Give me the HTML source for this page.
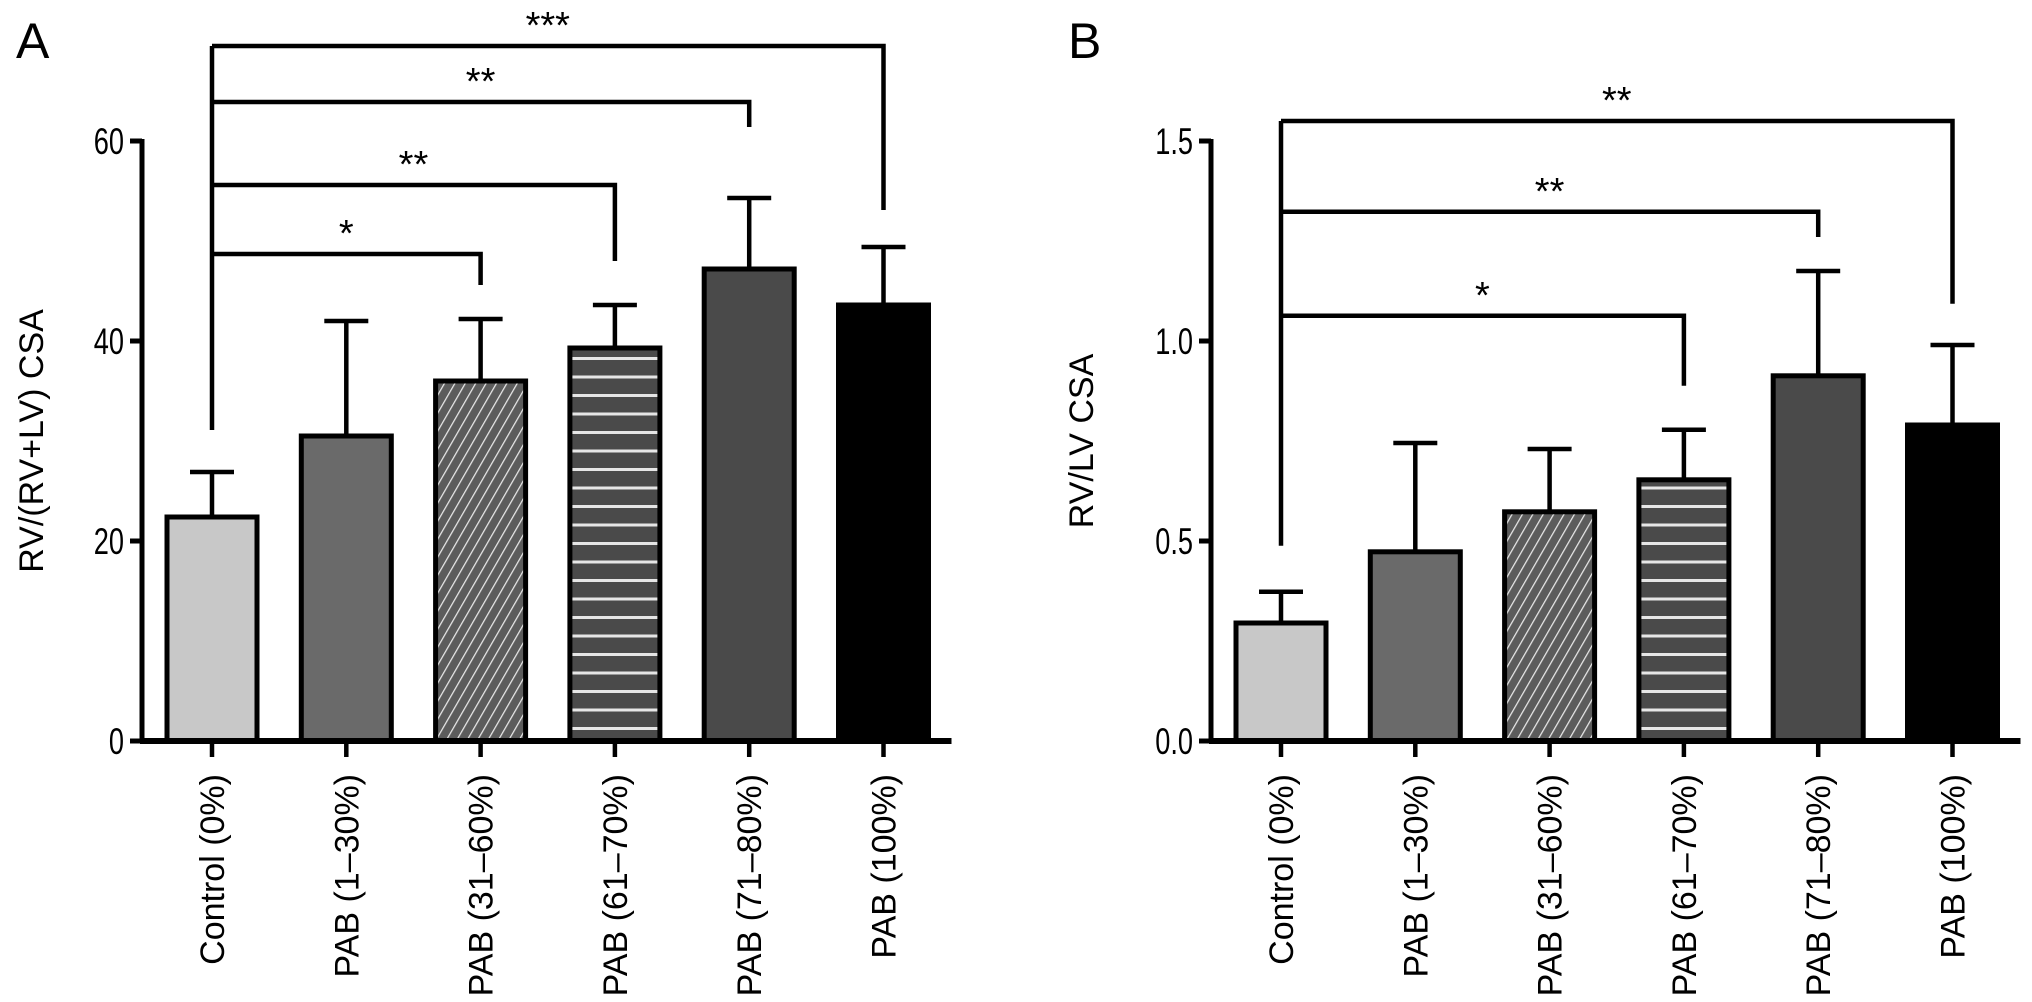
<!DOCTYPE html>
<html><head><meta charset="utf-8"><style>
html,body{margin:0;padding:0;background:#fff}
svg{display:block}
text{font-family:"Liberation Sans",Arial,sans-serif;fill:#000}
</style></head><body>
<svg id="chart" width="2032" height="1002" viewBox="0 0 2032 1002" xmlns="http://www.w3.org/2000/svg">
<defs>
<pattern id="diag" patternUnits="userSpaceOnUse" width="9" height="9" patternTransform="rotate(30)">
<rect width="9" height="9" fill="#5c5c5c"/><line x1="0" y1="0" x2="0" y2="9" stroke="#e8e8e8" stroke-width="2.5"/>
</pattern>
<pattern id="horiz" patternUnits="userSpaceOnUse" width="20" height="18.5" y="741">
<rect width="20" height="18.5" fill="#4a4a4a"/><line x1="0" y1="6" x2="20" y2="6" stroke="#e6e6e6" stroke-width="3"/>
</pattern>
</defs>
<g id="root"></g>
</svg>
<script>
const categories = ["Control (0%)", "PAB (1\u201330%)", "PAB (31\u201360%)", "PAB (61\u201370%)", "PAB (71\u201380%)", "PAB (100%)"];
const fills = ["#c8c8c8", "#6a6a6a", "url(#diag)", "url(#horiz)", "#4a4a4a", "#000000"];
const valuesA = [22.4, 30.5, 36.0, 39.3, 47.2, 43.6];
const errTopA = [26.9, 42.0, 42.2, 43.6, 54.3, 49.4];
const ticksA = [0, 20, 40, 60];
const tickLabelsA = ["0", "20", "40", "60"];
const bracketsA = [
  {to: 2, level: 48.7, drop: 45.6, label: "*"},
  {to: 3, level: 55.6, drop: 48.0, label: "**"},
  {to: 4, level: 63.9, drop: 61.4, label: "**"},
  {to: 5, level: 69.5, drop: 53.1, label: "***"}
];
const legA = 31.1;
const valuesB = [0.295, 0.473, 0.573, 0.653, 0.913, 0.79];
const errTopB = [0.373, 0.745, 0.73, 0.778, 1.175, 0.99];
const ticksB = [0, 0.5, 1.0, 1.5];
const tickLabelsB = ["0.0", "0.5", "1.0", "1.5"];
const bracketsB = [
  {to: 3, level: 1.063, drop: 0.888, label: "*"},
  {to: 4, level: 1.323, drop: 1.26, label: "**"},
  {to: 5, level: 1.55, drop: 1.093, label: "**"}
];
const legB = 0.488;

const NS = "http://www.w3.org/2000/svg";
const root = document.getElementById("root");
function el(tag, attrs, parent) {
  const e = document.createElementNS(NS, tag);
  for (const k in attrs) e.setAttribute(k, attrs[k]);
  (parent || root).appendChild(e);
  return e;
}

function panel(cfg) {
  const g = el("g", {});
  
  
  const y0 = 741, yTopPx = 141;
  const yS = v => y0 - (v / cfg.max) * (y0 - yTopPx);
  const xS = i => cfg.axisX + 70 + i * 134.3;
  const bw = 90;
  cfg.values.forEach((v, i) => {
    const b = el("rect", {x: xS(i) - bw/2, y: yS(v), width: bw, height: y0 - yS(v), fill: fills[i], stroke: "#000", "stroke-width": 5}, g);
    
    
    const e = el("path", {d: `M${xS(i)},${yS(v)}V${yS(cfg.err[i])}M${xS(i)-22},${yS(cfg.err[i])}H${xS(i)+22}`, stroke: "#000", "stroke-width": 4.5, fill: "none"}, g);
    
    
  });
  const ya = el("path", {d: `M${cfg.axisX},${yS(cfg.max)-2}V${y0}`, stroke: "#000", "stroke-width": 5}, g);
  
  
  cfg.ticks.forEach((t, i) => {
    const tk = el("path", {d: `M${cfg.axisX-12},${yS(t)}H${cfg.axisX}`, stroke: "#000", "stroke-width": 5}, g);
    
    
    const tl = el("text", {x: 0, y: 0, "font-size": 32, "text-anchor": "end", transform: `translate(${cfg.axisX-18},${yS(t)+13}) scale(0.85,1.15)`}, g);
    tl.textContent = cfg.tickLabels[i];
    
    
  });
  const xa = el("path", {d: `M${cfg.axisX-2},${y0}H${cfg.axisX + 70 + 5*134.3 + 68}`, stroke: "#000", "stroke-width": 6}, g);
  
  
  categories.forEach((c, i) => {
    const tk = el("path", {d: `M${xS(i)},${y0}V${y0+16}`, stroke: "#000", "stroke-width": 4.5}, g);
    
    
    const tl = el("text", {transform: `translate(${xS(i)+12},${774}) rotate(-90)`, "font-size": 34, "text-anchor": "end"}, g);
    tl.textContent = c;
    
    
  });
  const lx = xS(0);
  const leg = el("path", {d: `M${lx},${yS(cfg.leg)}V${yS(Math.max(...cfg.brackets.map(b=>b.level)))}`, stroke: "#000", "stroke-width": 4.5}, g);
  
  
  cfg.brackets.forEach(b => {
    const p = el("path", {d: `M${lx},${yS(b.level)}H${xS(b.to)}V${yS(b.drop)}`, stroke: "#000", "stroke-width": 4.5, fill: "none"}, g);
    
    
    const s = el("text", {x: (lx + xS(b.to)) / 2, y: yS(b.level) - 8, "font-size": 38, "text-anchor": "middle"}, g);
    s.textContent = b.label;
    
    
  });
  const yt = el("text", {transform: `translate(${cfg.titleX},441) rotate(-90)`, "font-size": 34, "text-anchor": "middle"}, g);
  yt.textContent = cfg.title;
  
  
  const pl = el("text", {x: cfg.letterX, y: 58, "font-size": 50}, g);
  pl.textContent = cfg.letter;
  
  
}

panel({name: "panel-a", key: "a", axisX: 142, max: 60, values: valuesA, err: errTopA, ticks: ticksA, tickLabels: tickLabelsA, brackets: bracketsA, leg: legA, title: "RV/(RV+LV) CSA", titleX: 43, letter: "A", letterX: 16});
panel({name: "panel-b", key: "b", axisX: 1211, max: 1.5, values: valuesB, err: errTopB, ticks: ticksB, tickLabels: tickLabelsB, brackets: bracketsB, leg: legB, title: "RV/LV CSA", titleX: 1093, letter: "B", letterX: 1068});
</script>
</body></html>
